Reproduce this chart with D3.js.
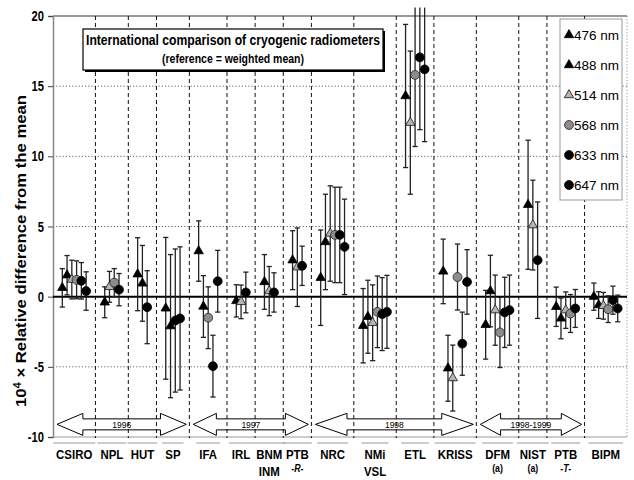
<!DOCTYPE html>
<html><head><meta charset="utf-8">
<script src="https://cdn.jsdelivr.net/npm/d3@7"></script>
<style>body{margin:0;background:#fff}svg{display:block;font-family:"Liberation Sans",Arial,sans-serif}</style>
</head><body><svg id="c" width="634" height="480"></svg>
<script>
// ---- data ----
const groups    = ["CSIRO","NPL","HUT","SP","IFA","IRL","BNM","PTB","NRC","NMi","ETL","KRISS","DFM","NIST","PTB","BIPM"];
const groupSub  = ["","","","","","","INM","-R-","","VSL","","","(a)","(a)","-T-",""];
const wavelengths = [476,488,514,568,633,647];
const v476 = [0.63,null,1.6,-0.83,3.25,null,null,null,1.35,-2.07,null,1.8,-2.0,null,-0.72,0.0];
const v488 = [1.53,-0.4,0.95,-2.1,-0.7,-0.3,1.05,2.6,3.9,-1.43,14.3,-5.1,0.4,6.55,-1.55,-0.6];
const v514 = [1.22,0.7,null,null,null,-0.37,0.4,2.1,4.5,-1.86,12.4,-5.8,-0.96,5.1,-0.96,-0.65];
const v568 = [1.2,1.0,null,null,-1.5,null,null,null,4.4,-1.08,15.8,1.4,-2.55,null,-1.2,-0.89];
const v633 = [1.13,0.5,-0.75,-1.7,-4.95,0.3,0.3,2.2,4.4,-1.24,17.05,-3.35,-1.12,2.6,-0.84,-0.25];
const v647 = [0.4,null,null,-1.55,1.1,null,null,null,3.55,-1.08,16.2,1.05,-0.96,null,null,-0.84];
const u476 = [1.37,null,2.6,5.05,2.15,null,null,null,3.4,2.65,null,2.3,2.45,null,1.4,0.97];
const u488 = [1.4,1.1,2.7,5.1,2.2,1.15,1.95,2.1,3.4,2.6,5.1,2.35,2.55,4.6,1.45,0.95];
const u514 = [1.38,1.1,null,null,null,1.2,1.75,2.8,3.4,2.7,5.1,2.35,2.5,3.2,1.3,0.95];
const u568 = [1.35,1.0,null,null,2.2,null,null,null,3.4,2.55,5.1,2.35,2.5,null,1.35,0.95];
const u633 = [1.3,1.15,2.6,5.1,2.2,1.45,1.4,1.4,3.4,2.6,5.15,2.25,2.5,4.15,1.35,1.0];
const u647 = [1.37,null,null,5.1,2.2,null,null,null,3.4,2.6,5.15,2.3,2.5,null,null,0.95];
const yTicks = [20,15,10,5,0,-5,-10];
const periods = ["1996","1997","1998","1998-1999"];
const periodFirst = [0,4,8,12];
const periodLast  = [3,7,11,14];
const titleText = "International comparison of cryogenic radiometers";
const subtitleText = "(reference = weighted mean)";

// ---- layout ----
const values = [v476,v488,v514,v568,v633,v647];
const uncs   = [u476,u488,u514,u568,u633,u647];
const shapes = ["tri","tri","tri","cir","cir","cir"];
const fills  = ["#000","#000","#b4b4b4","#8c8c8c","#000","#000"];
const strokes= ["#000","#000","#111","#222","#000","#000"];
const pad = 2.9;
const counts = groups.map((g,i)=>values.filter(s=>s[i]!=null).length);
const starts = []; let acc = 0;
counts.forEach(c=>{starts.push(acc); acc += c + pad;});
const total = acc;

const svg = d3.select("#c");
const x = d3.scaleLinear().domain([0,total]).range([53,627]);
const y = d3.scaleLinear().domain([-10,20]).range([437,16]);
const X0 = x(0), X1 = x(total);

// gridlines
svg.append("g").selectAll("line").data([15,10,5,-5]).join("line")
  .attr("x1",X0).attr("x2",X1).attr("y1",d=>y(d)).attr("y2",d=>y(d))
  .attr("stroke","#555").attr("stroke-width",0.9).attr("stroke-dasharray","1.2,2");
// top and bottom frame
svg.append("line").attr("x1",X0).attr("x2",X1).attr("y1",y(20)).attr("y2",y(20)).attr("stroke","#777").attr("stroke-width",1.5);
svg.append("line").attr("x1",X0).attr("x2",X1).attr("y1",y(-10)).attr("y2",y(-10)).attr("stroke","#999").attr("stroke-width",1);
svg.append("line").attr("x1",X1).attr("x2",X1).attr("y1",y(20)).attr("y2",y(-10)).attr("stroke","#888").attr("stroke-width",0.9).attr("stroke-dasharray","1.2,2");
// group separators
svg.append("g").selectAll("line").data(starts.slice(1)).join("line")
  .attr("x1",d=>x(d)).attr("x2",d=>x(d)).attr("y1",y(20)).attr("y2",y(-10)+1)
  .attr("stroke","#111").attr("stroke-width",1).attr("stroke-dasharray","4,3");

// y axis
const yAxis = svg.append("g").attr("transform",`translate(${X0},0)`)
  .call(d3.axisLeft(y).tickValues(yTicks).tickSize(5).tickFormat(""));
yAxis.select(".domain").attr("stroke","#888").attr("stroke-width",1.5);
yAxis.selectAll(".tick line").attr("stroke","#444");
svg.append("g").selectAll("text").data(yTicks).join("text")
  .attr("transform",d=>`translate(44,${y(d)+5}) scale(0.8,1)`)
  .attr("text-anchor","end").attr("font-size",14).attr("font-weight","bold").text(d=>d);

// zero line
svg.append("line").attr("x1",X0).attr("x2",X1).attr("y1",y(0)).attr("y2",y(0)).attr("stroke","#000").attr("stroke-width",2);

// y label
const yl = svg.append("text").attr("transform",`translate(26,251) rotate(-90)`)
  .attr("text-anchor","middle").attr("font-size",15).attr("font-weight","bold")
  .attr("textLength",312).attr("lengthAdjust","spacingAndGlyphs");
yl.append("tspan").text("10");
yl.append("tspan").attr("baseline-shift","super").attr("font-size",10).text("4");
yl.append("tspan").text(" × Relative difference from the mean");

// period arrows
const yc = y(-9.1);
periods.forEach((p,i)=>{
  const a = x(starts[periodFirst[i]]) + 4;
  const b = x(starts[periodLast[i]] + counts[periodLast[i]] + pad) - 3;
  const h = 0.2*(b-a), H = 11, s = 5.5;
  const path = `M${a},${yc} L${a+h},${yc-H} L${a+h},${yc-s} L${b-h},${yc-s} L${b-h},${yc-H} L${b},${yc} L${b-h},${yc+H} L${b-h},${yc+s} L${a+h},${yc+s} L${a+h},${yc+H} Z`;
  svg.append("path").attr("d",path).attr("fill","none").attr("stroke","#000").attr("stroke-width",1);
  svg.append("text").attr("x",(a+b)/2).attr("y",yc+3.5).attr("text-anchor","middle")
    .attr("font-size",9.5).attr("transform",`translate(${(a+b)/2*0.1},0) scale(0.9,1)`).text(p);
});

// points
const pts = [];
groups.forEach((g,i)=>{
  let k = 0;
  values.forEach((s,j)=>{
    if (s[i]==null) return;
    pts.push({g:i, j, v:s[i], u:uncs[j][i], xs: starts[i] + pad/2 + k + 0.5});
    k++;
  });
});
const cap = 2.6;
const yMaxBar = 20.6;
const eb = svg.append("g");
pts.forEach(p=>{
  const px = x(p.xs);
  const hi = Math.min(p.v+p.u, yMaxBar), lo = p.v-p.u;
  eb.append("line").attr("x1",px).attr("x2",px).attr("y1",y(hi)).attr("y2",y(lo)).attr("stroke","#222").attr("stroke-width",1.3);
  if (p.v+p.u <= yMaxBar)
    eb.append("line").attr("x1",px-cap).attr("x2",px+cap).attr("y1",y(hi)).attr("y2",y(hi)).attr("stroke","#222").attr("stroke-width",1.3);
  eb.append("line").attr("x1",px-cap).attr("x2",px+cap).attr("y1",y(lo)).attr("y2",y(lo)).attr("stroke","#222").attr("stroke-width",1.3);
});
const sym = j => shapes[j]==="tri" ? d3.symbol(d3.symbolTriangle,38)() : d3.symbol(d3.symbolCircle,62)();
svg.append("g").selectAll("path").data(pts).join("path")
  .attr("d",d=>sym(d.j)).attr("transform",d=>`translate(${x(d.xs)},${y(d.v)})`)
  .attr("fill",d=>fills[d.j]).attr("stroke",d=>strokes[d.j]).attr("stroke-width",0.8);

// group labels
groups.forEach((g,i)=>{
  const cx = x(starts[i] + (counts[i]+pad)/2);
  const t = svg.append("text").attr("transform",`translate(${cx},459) scale(0.88,1)`)
    .attr("text-anchor","middle").attr("font-size",13).attr("font-weight","bold").text(g);
  const w = t.node().getComputedTextLength()*0.88;
  svg.append("line").attr("x1",cx-w/2-3).attr("x2",cx+w/2+3).attr("y1",443).attr("y2",443).attr("stroke","#999").attr("stroke-width",1);
  const sub = groupSub[i];
  if (sub) {
    const small = sub.startsWith("(") || sub.startsWith("-");
    svg.append("text").attr("transform",`translate(${cx},${small?472:476}) scale(0.88,1)`)
      .attr("text-anchor","middle").attr("font-size",small?10:13).attr("font-weight","bold")
      .attr("font-style",sub.startsWith("-")?"italic":"normal").text(sub);
  }
});

// title box
svg.append("rect").attr("x",85).attr("y",31).attr("width",300).attr("height",41).attr("fill","#000");
svg.append("rect").attr("x",83).attr("y",29).attr("width",300).attr("height",41).attr("fill","#fff").attr("stroke","#000").attr("stroke-width",1.2);
svg.append("text").attr("x",233).attr("y",45).attr("text-anchor","middle").attr("font-size",14).attr("font-weight","bold")
  .attr("textLength",294).attr("lengthAdjust","spacingAndGlyphs").text(titleText);
svg.append("text").attr("x",233).attr("y",63).attr("text-anchor","middle").attr("font-size",12).attr("font-weight","bold")
  .attr("textLength",142).attr("lengthAdjust","spacingAndGlyphs").text(subtitleText);

// legend
svg.append("rect").attr("x",560).attr("y",19).attr("width",62).attr("height",181).attr("fill","#fff").attr("stroke","#999").attr("stroke-width",1);
wavelengths.forEach((w,j)=>{
  const ly = 35 + j*30;
  svg.append("path").attr("d",sym(j)).attr("transform",`translate(569,${ly})`)
    .attr("fill",fills[j]).attr("stroke",strokes[j]).attr("stroke-width",0.8);
  svg.append("text").attr("x",574).attr("y",ly+5).attr("font-size",13.5).text(`${w} nm`);
});
</script></body></html>
